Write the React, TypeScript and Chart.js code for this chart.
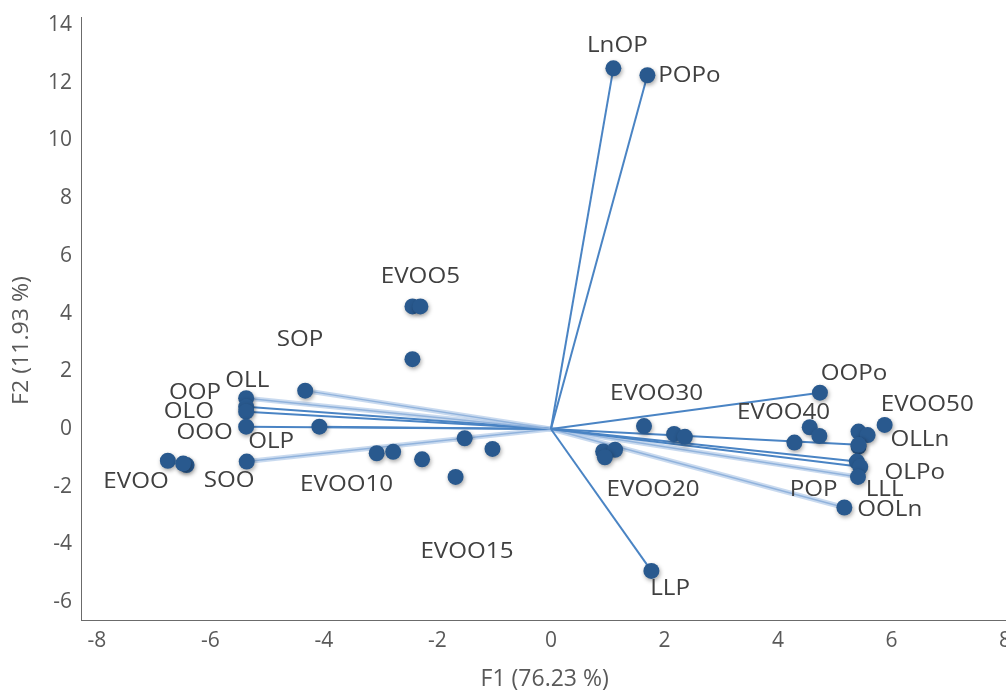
import React, { useEffect, useRef } from "react";
import { Chart, registerables } from "chart.js";

Chart.register(...registerables);

// Variable vectors (loadings), drawn from the origin
const vecNames = ["LnOP", "POPo", "LLP", "OOPo", "SOP", "OLL", "OOP", "OLO", "OOO", "OLP", "SOO", "OLLn", "OLPo", "LLL", "POP", "OOLn"];
const vecX = [1.10, 1.70, 1.77, 4.74, -4.33, -5.37, -5.37, -5.37, -5.37, -4.08, -5.36, 5.42, 5.39, 5.45, 5.41, 5.17];
const vecY = [12.50, 12.26, -4.92, 1.26, 1.33, 1.07, 0.77, 0.60, 0.08, 0.08, -1.13, -0.55, -1.13, -1.31, -1.66, -2.72];

// Observation scores (samples)
const obsX = [-2.44, -2.30, -2.44, -6.75, -6.42, -6.48, -3.07, -2.78, -2.27, -1.68, -1.52, -1.03, 0.92, 1.13, 0.95, 1.64, 2.17, 2.36, 4.29, 4.56, 4.73, 5.88, 5.42, 5.58, 5.42];
const obsY = [4.25, 4.25, 2.42, -1.10, -1.25, -1.20, -0.84, -0.79, -1.05, -1.66, -0.32, -0.69, -0.78, -0.72, -0.98, 0.10, -0.17, -0.27, -0.47, 0.06, -0.24, 0.14, -0.09, -0.21, -0.61];

// Text annotations
const labelTexts = ["LnOP", "POPo", "EVOO5", "SOP", "OLL", "OOP", "OLO", "OOO", "OLP", "EVOO", "SOO", "EVOO10", "EVOO15", "EVOO30", "EVOO40", "EVOO50", "OOPo", "OLLn", "OLPo", "LLL", "POP", "OOLn", "EVOO20", "LLP"];
const labelX = [1.17, 2.44, -2.30, -4.42, -5.35, -6.27, -6.38, -6.10, -4.93, -7.31, -5.67, -3.60, -1.48, 1.86, 4.10, 6.63, 5.34, 6.50, 6.41, 5.88, 4.63, 5.97, 1.80, 2.10];
const labelY = [13.26, 12.22, 5.28, 3.09, 1.67, 1.25, 0.59, -0.14, -0.45, -1.84, -1.81, -1.94, -4.27, 1.22, 0.56, 0.83, 1.91, -0.38, -1.53, -2.12, -2.12, -2.81, -2.12, -5.56];

const xTicks = [-8, -6, -4, -2, 0, 2, 4, 6, 8];
const yTicks = [-6, -4, -2, 0, 2, 4, 6, 8, 10, 12, 14];
const xTitle = "F1 (76.23 %)";
const yTitle = "F2 (11.93 %)";

const lightVectors = new Set(["SOP", "OLL", "SOO", "POP", "OOLn"]);

const FONT = "'Open Sans', 'Noto Sans', sans-serif";
const POINT_COLOR = "#29598e";
const CANVAS_W = 1019; // wider than the view: the right edge (and the "8" label) is cropped as in the reference
const TEXT_STRETCH = 1.15;

export default function App() {
  const ref = useRef<HTMLCanvasElement | null>(null);

  useEffect(() => {
    document.body.style.margin = "0";
    const canvas = ref.current;
    if (!canvas) return;

    const lineSets: any[] = [];
    vecNames.forEach((name, i) => {
      const light = lightVectors.has(name);
      if (light) {
        lineSets.push({
          type: "line",
          data: [{ x: 0, y: 0 }, { x: vecX[i], y: vecY[i] }],
          borderColor: "rgba(178,203,232,0.7)",
          borderWidth: 5,
          pointRadius: 0,
          order: 3,
        });
      }
      lineSets.push({
        type: "line",
        data: [{ x: 0, y: 0 }, { x: vecX[i], y: vecY[i] }],
        borderColor: light ? "rgba(140,175,218,0.9)" : "#4a84c4",
        borderWidth: light ? 1.5 : 2,
        pointRadius: 0,
        order: 2,
      });
    });

    const pointSet = {
      type: "scatter",
      data: [
        ...obsX.map((x, i) => ({ x, y: obsY[i] })),
        ...vecX.map((x, i) => ({ x, y: vecY[i] })),
      ],
      backgroundColor: POINT_COLOR,
      borderWidth: 0,
      pointRadius: 8,
      order: 0,
    };

    const labelPlugin = {
      id: "biplotLabels",
      afterDatasetsDraw(chart: any) {
        const { ctx, scales, chartArea } = chart;
        ctx.save();
        ctx.font = `21px ${FONT}`;
        ctx.fillStyle = "#404040";
        ctx.textAlign = "center";
        ctx.textBaseline = "middle";
        labelTexts.forEach((t, i) => {
          const px = scales.x.getPixelForValue(labelX[i]);
          const py = scales.y.getPixelForValue(labelY[i]);
          ctx.save();
          ctx.translate(px, py);
          ctx.scale(TEXT_STRETCH, 1);
          ctx.fillText(t, 0, 0);
          ctx.restore();
        });
        // y-axis title
        ctx.font = `21px ${FONT}`;
        ctx.fillStyle = "#595959";
        ctx.translate(22, (chartArea.top + chartArea.bottom) / 2 + 22);
        ctx.rotate(-Math.PI / 2);
        ctx.scale(1.1, 1);
        ctx.fillText(yTitle, 0, 0);
        ctx.restore();
      },
    };

    const shadowPlugin = {
      id: "pointShadow",
      beforeDatasetDraw(chart: any, args: any) {
        if (args.meta.type === "scatter") {
          const ctx = chart.ctx;
          ctx.save();
          ctx.shadowColor = "rgba(0,0,0,0.35)";
          ctx.shadowBlur = 4;
          ctx.shadowOffsetX = 1;
          ctx.shadowOffsetY = 2;
        }
      },
      afterDatasetDraw(chart: any, args: any) {
        if (args.meta.type === "scatter") chart.ctx.restore();
      },
    };

    const chart = new Chart(canvas, {
      type: "scatter",
      data: { datasets: [pointSet, ...lineSets] as any },
      options: {
        animation: false,
        responsive: false,
        layout: { padding: { top: 17, right: 0, left: 0, bottom: 0 } },
        plugins: { legend: { display: false }, tooltip: { enabled: false } },
        scales: {
          x: {
            type: "linear",
            min: -8.28,
            max: 8.06,
            grid: { display: false, drawTicks: false },
            border: { display: true, color: "#6b6b6b", width: 1 },
            afterBuildTicks: (s: any) => { s.ticks = xTicks.map((v) => ({ value: v })); },
            afterFit: (s: any) => { s.height = 73; },
            ticks: { color: "#595959", font: { family: FONT, size: 21 }, padding: 8, autoSkip: false, maxRotation: 0, callback: (v: any) => String(v) },
            title: { display: true, text: xTitle, color: "#595959", font: { family: FONT, size: 23, lineHeight: 1.2 }, padding: { top: 0, bottom: 0 } },
          },
          y: {
            type: "linear",
            min: -6.62,
            max: 14.28,
            grid: { display: false, drawTicks: false },
            border: { display: true, color: "#6b6b6b", width: 1 },
            afterBuildTicks: (s: any) => { s.ticks = yTicks.map((v) => ({ value: v })); },
            afterFit: (s: any) => { s.width = 81; s.paddingTop = 0; s.paddingBottom = 0; },
            ticks: { color: "#595959", font: { family: FONT, size: 21 }, padding: 9, autoSkip: false, callback: (v: any) => String(v) },
            title: { display: false },
          },
        },
      } as any,
      plugins: [labelPlugin, shadowPlugin],
    });

    return () => chart.destroy();
  }, []);

  return (
    <div style={{ width: 1006, height: 693, overflow: "hidden", background: "#fff" }}>
      <canvas ref={ref} width={CANVAS_W} height={693} style={{ display: "block" }} />
    </div>
  );
}
